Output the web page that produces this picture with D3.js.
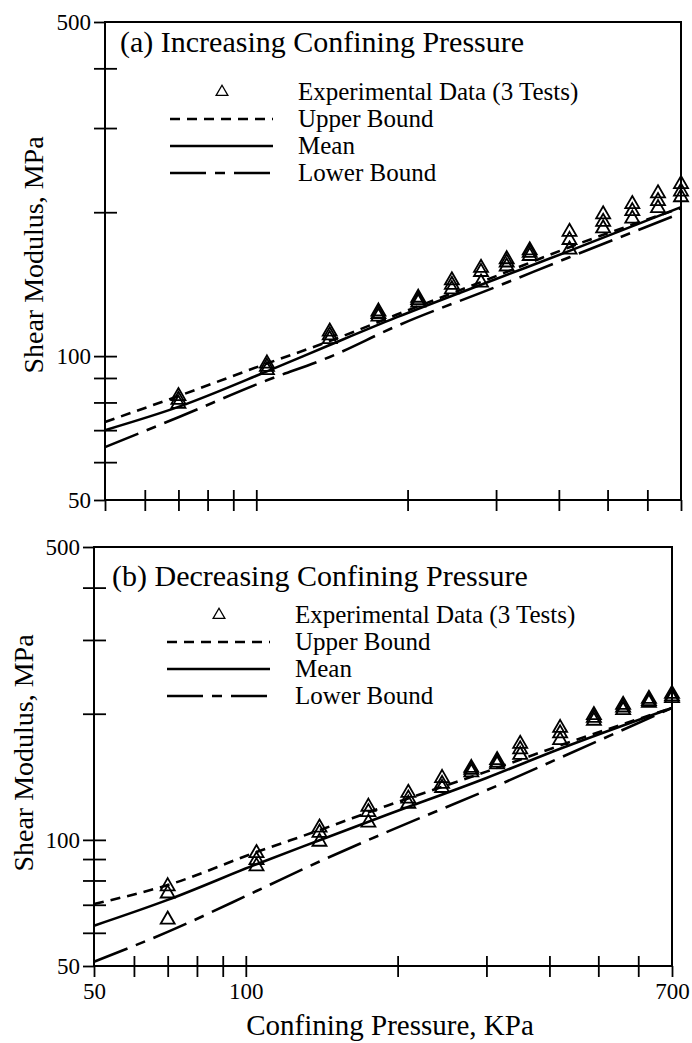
<!DOCTYPE html>
<html>
<head>
<meta charset="utf-8">
<script src="https://cdn.jsdelivr.net/npm/d3@7"></script>
<style>
  body { margin: 0; background: #fff; }
  svg text { font-family: "Liberation Serif", "DejaVu Serif", serif; fill: #000; }
</style>
</head>
<body>
<div id="chart"></div>
<script>
// confining pressure of the test points, KPa
const pressures = [70, 105, 140, 175, 210, 245, 280, 315, 350, 420, 490, 560, 630, 700];

// (a) increasing confining pressure, shear modulus of the 3 tests, MPa
const testA1 = [79.5, 93.5, 108.5, 121, 129.5, 138, 142.5, 154, 162, 167, 185, 194, 204, 215];
const testA2 = [81, 95, 110.5, 122.5, 131, 141, 150, 157, 164.5, 175, 191, 201, 211, 221];
const testA3 = [82.5, 96.5, 112.5, 124, 132.5, 144, 153, 159.5, 166.5, 182, 198, 208, 219, 229];

// (b) decreasing confining pressure
const testB1 = [64.5, 86.5, 99, 110, 122, 133, 145, 151.5, 159.5, 173, 192.5, 204, 212.5, 218];
const testB2 = [74.5, 89.5, 104, 116.5, 125.5, 136, 147, 153, 164.5, 179.5, 195.5, 207, 214.5, 220];
const testB3 = [77.5, 93, 107, 120, 129.5, 140.5, 148.5, 155, 169.5, 185, 198.5, 210, 217, 223];

// bound / mean curves
const curvePressures = [50, 70, 105, 140, 190, 300, 420, 700];
const upperA = [72.8, 82.5, 96.5, 107.5, 122, 147, 169, 204];
const meanA  = [70.0, 78.3, 92.9, 105.5, 120.5, 145, 166, 205];
const lowerA = [64.5, 74.5, 89.0, 99.6, 115.5, 139.6, 161, 199];
const upperB = [70.3, 78.0, 93.5, 105.5, 120.5, 145.5, 168, 206.5];
const meanB  = [62.4, 71.9, 87.5, 99.8, 114.6, 140.5, 165, 206.5];
const lowerB = [51.2, 60.3, 75.5, 88.8, 104.3, 131.3, 157, 206.5];

// ticks
const xTicks = [50, 60, 70, 80, 90, 100, 200, 300, 400, 500, 600, 700];
const xLabels = [50, 100, 700];
const yTicks = [50, 60, 70, 80, 90, 100, 200, 300, 400, 500];
const yLabels = [50, 100, 500];

const legendNames = ["Experimental Data (3 Tests)", "Upper Bound", "Mean", "Lower Bound"];

const svg = d3.select("#chart").append("svg")
  .attr("width", 692)
  .attr("height", 1043);

const dashUpper = "10,7";
const dashLower = "36,9,10,9";

function drawPanel(p) {
  const x = d3.scaleLog().domain([50, 700]).range([p.left, p.right]);
  const y = d3.scaleLog().domain([50, 500]).range([p.bottom, p.top]);
  const g = svg.append("g");

  // left axis (outer ticks + labels)
  const ax = g.append("g").attr("transform", `translate(${p.left},0)`)
    .call(d3.axisLeft(y).tickValues(yTicks).tickSize(11).tickPadding(3)
      .tickFormat(d => yLabels.includes(d) ? d : ""));
  // inner ticks
  const ax2 = g.append("g").attr("transform", `translate(${p.left},0)`)
    .call(d3.axisRight(y).tickValues(yTicks.slice(1, -1)).tickSize(12).tickFormat(""));
  const bx = g.append("g").attr("transform", `translate(0,${p.bottom})`)
    .call(d3.axisBottom(x).tickValues(xTicks).tickSize(11).tickPadding(6)
      .tickFormat(d => p.xLabels && xLabels.includes(d) ? d : ""));
  const bx2 = g.append("g").attr("transform", `translate(0,${p.bottom})`)
    .call(d3.axisTop(x).tickValues(xTicks.slice(1, -1)).tickSize(10).tickFormat(""));

  [ax, ax2, bx, bx2].forEach(a => {
    a.select(".domain").remove();
    a.selectAll("line").attr("stroke", "#000").attr("stroke-width", 1.8);
    a.selectAll("text").style("font-size", "23px").style("font-family", "Liberation Serif");
  });

  // frame
  g.append("rect")
    .attr("x", p.left).attr("y", p.top)
    .attr("width", p.right - p.left).attr("height", p.bottom - p.top)
    .attr("fill", "none").attr("stroke", "#000").attr("stroke-width", 2);

  // curves
  const line = d3.line()
    .x((d, i) => x(curvePressures[i]))
    .y(d => y(d))
    .curve(d3.curveMonotoneX);
  [[p.upper, dashUpper], [p.mean, null], [p.lower, dashLower]].forEach(([vals, dash]) => {
    g.append("path")
      .attr("d", line(vals))
      .attr("fill", "none")
      .attr("stroke", "#000")
      .attr("stroke-width", 2.6)
      .attr("stroke-dasharray", dash);
  });

  // experimental points
  const tri = d3.symbol().type(d3.symbolTriangle).size(85);
  p.tests.forEach(vals => {
    g.selectAll(null)
      .data(vals)
      .enter()
      .append("path")
      .attr("d", tri)
      .attr("transform", (d, i) => `translate(${x(pressures[i])},${y(d)})`)
      .attr("fill", "none")
      .attr("stroke", "#000")
      .attr("stroke-width", 1.8);
  });

  // title
  g.append("text")
    .attr("x", p.titleX).attr("y", p.titleY)
    .style("font-size", "30px")
    .text(p.title);

  // legend
  const lg = g.append("g").attr("transform", `translate(0,${p.legendY})`);
  const rowH = 27;
  lg.append("path")
    .attr("d", d3.symbol().type(d3.symbolTriangle).size(60)())
    .attr("transform", `translate(${p.legendX + 52},0)`)
    .attr("fill", "none").attr("stroke", "#000").attr("stroke-width", 1.3);
  [dashUpper, null, dashLower].forEach((dash, i) => {
    lg.append("line")
      .attr("x1", p.legendX).attr("x2", p.legendX + 103)
      .attr("y1", rowH * (i + 1)).attr("y2", rowH * (i + 1))
      .attr("stroke", "#000").attr("stroke-width", 2.6)
      .attr("stroke-dasharray", dash);
  });
  legendNames.forEach((name, i) => {
    lg.append("text")
      .attr("x", p.legendX + 128)
      .attr("y", rowH * i)
      .attr("dy", "0.33em")
      .style("font-size", "25px")
      .text(name);
  });

  // y label
  g.append("text")
    .attr("transform", `translate(${p.yLabelX},${p.yLabelY}) rotate(-90)`)
    .attr("text-anchor", "middle")
    .style("font-size", "28px")
    .text("Shear Modulus, MPa");
}

drawPanel({
  left: 105, right: 681, top: 22, bottom: 500,
  upper: upperA, mean: meanA, lower: lowerA,
  tests: [testA1, testA2, testA3],
  title: "(a) Increasing Confining Pressure", titleX: 120, titleY: 52,
  legendX: 170, legendY: 92,
  yLabelX: 43, yLabelY: 255, xLabels: false
});

drawPanel({
  left: 94, right: 672, top: 547, bottom: 966,
  upper: upperB, mean: meanB, lower: lowerB,
  tests: [testB1, testB2, testB3],
  title: "(b) Decreasing Confining Pressure", titleX: 112, titleY: 586,
  legendX: 167, legendY: 615,
  yLabelX: 33, yLabelY: 753, xLabels: true
});

svg.append("text")
  .attr("x", 390).attr("y", 1035)
  .attr("text-anchor", "middle")
  .style("font-size", "29px")
  .text("Confining Pressure, KPa");
</script>
</body>
</html>
